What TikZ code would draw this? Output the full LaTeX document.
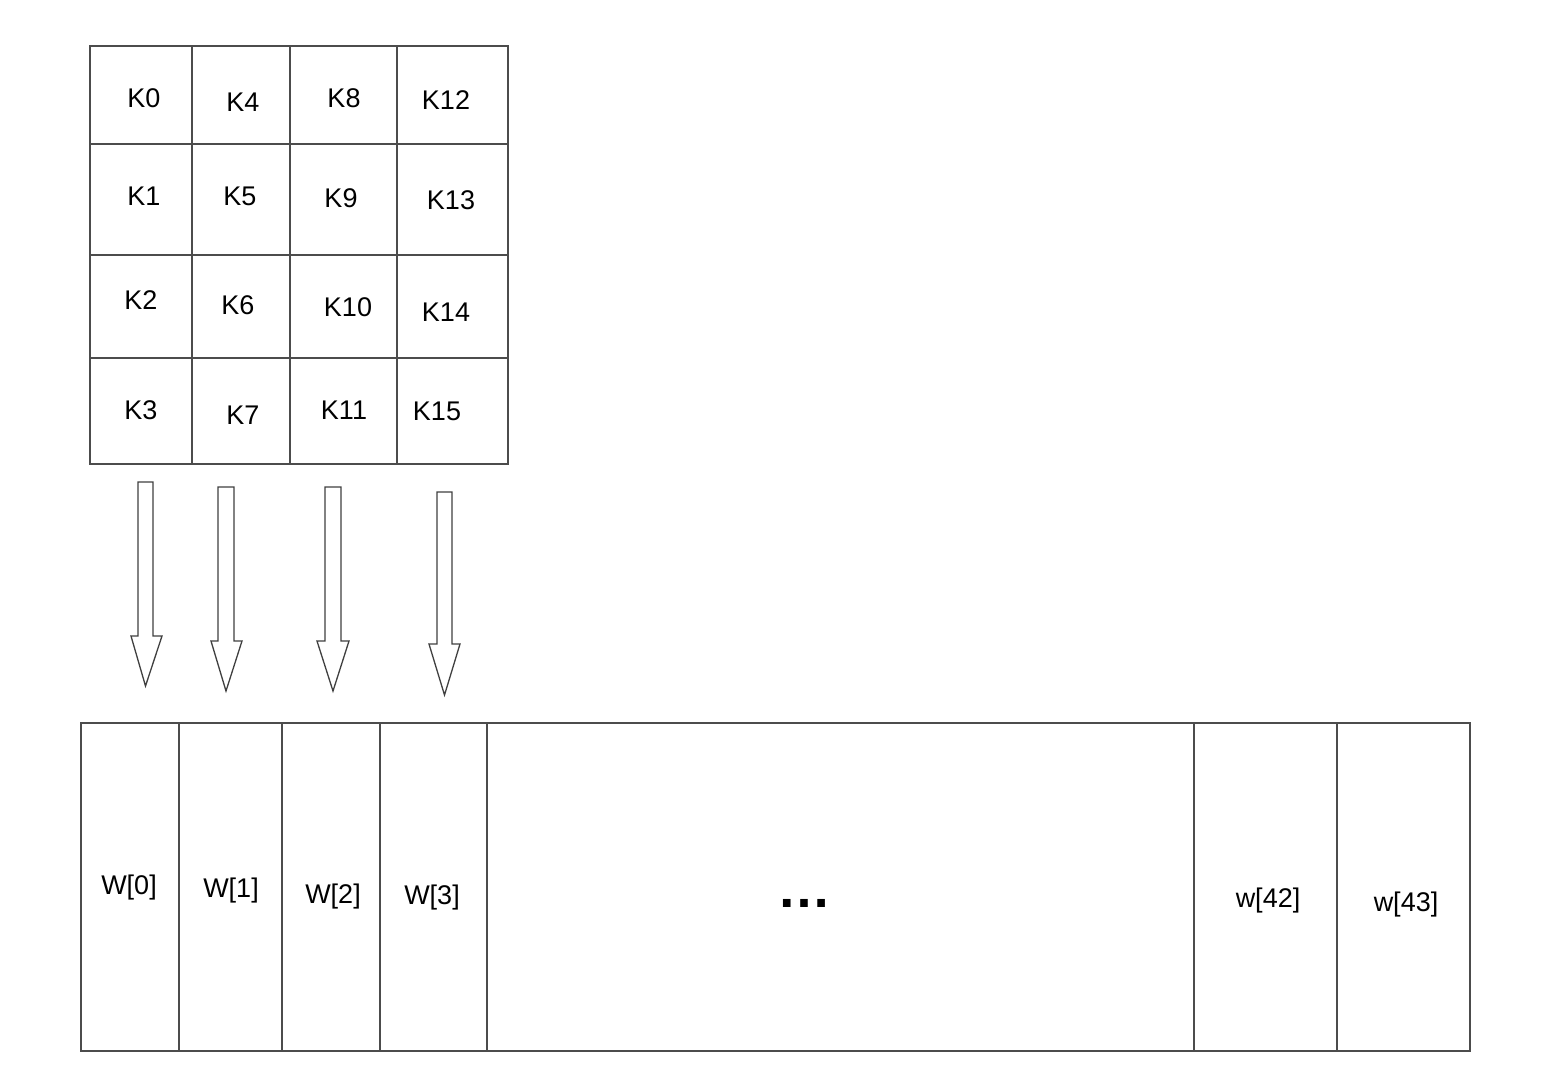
\documentclass[tikz,border=0pt]{standalone}
\usepackage{fontspec}
\setmainfont{Liberation Sans}
\begin{document}
\begin{tikzpicture}[x=1pt,y=-1pt,
  ln/.style={draw=black!70, line width=1.3pt},
  lbl/.style={font=\fontsize{27}{30}\selectfont, inner sep=0pt, text=black},
  dots/.style={font=\fontsize{54}{54}\selectfont\bfseries, inner sep=0pt},
  fatarrow/.style={draw=black!75, line width=1.3pt, fill=white, line join=miter}]
\useasboundingbox[fill=white] (0,0) rectangle (1565,1090);
% key grid
\draw[ln] (90,46) rectangle (508,464);
\foreach \x in {192,290,397} \draw[ln] (\x,46) -- (\x,464);
\foreach \y in {144,255,358} \draw[ln] (90,\y) -- (508,\y);
\node[lbl] (k0) at (144,98) {K0};
\node[lbl] (k4) at (243,102) {K4};
\node[lbl] (k8) at (344,98) {K8};
\node[lbl] (k12) at (446,100) {K12};
\node[lbl] (k1) at (144,196) {K1};
\node[lbl] (k5) at (240,196) {K5};
\node[lbl] (k9) at (341,198) {K9};
\node[lbl] (k13) at (451,200) {K13};
\node[lbl] (k2) at (141,300) {K2};
\node[lbl] (k6) at (238,305) {K6};
\node[lbl] (k10) at (348,307) {K10};
\node[lbl] (k14) at (446,312) {K14};
\node[lbl] (k3) at (141,410) {K3};
\node[lbl] (k7) at (243,415) {K7};
\node[lbl] (k11) at (344,410) {K11};
\node[lbl] (k15) at (437,411) {K15};
% block arrows: shaft left, shaft right, top, head base, head left, head right, tip y
\foreach \sl/\sr/\t/\hb/\hl/\hr/\tip in {138/153/482/636/131/162/686, 218/234/487/641/211/242/691, 325/341/487/641/317/349/691, 437/452/492/644/429/460/695}
  \draw[fatarrow] (\sl,\t) -- (\sr,\t) -- (\sr,\hb) -- (\hr,\hb) -- ({(\sl+\sr)/2},\tip) -- (\hl,\hb) -- (\sl,\hb) -- cycle;
% word array
\draw[ln] (81,723) rectangle (1470,1051);
\foreach \x in {179,282,380,487,1194,1337} \draw[ln] (\x,723) -- (\x,1051);
\node[lbl] (w0) at (129,888) {W[0]};
\node[lbl] (w1) at (231,891) {W[1]};
\node[lbl] (w2) at (333,897) {W[2]};
\node[lbl] (w3) at (432,898) {W[3]};
\node[dots] (wd) at (804,903) {…};
\node[lbl] (w42) at (1268,901) {w[42]};
\node[lbl] (w43) at (1406,905) {w[43]};
\end{tikzpicture}
\end{document}
